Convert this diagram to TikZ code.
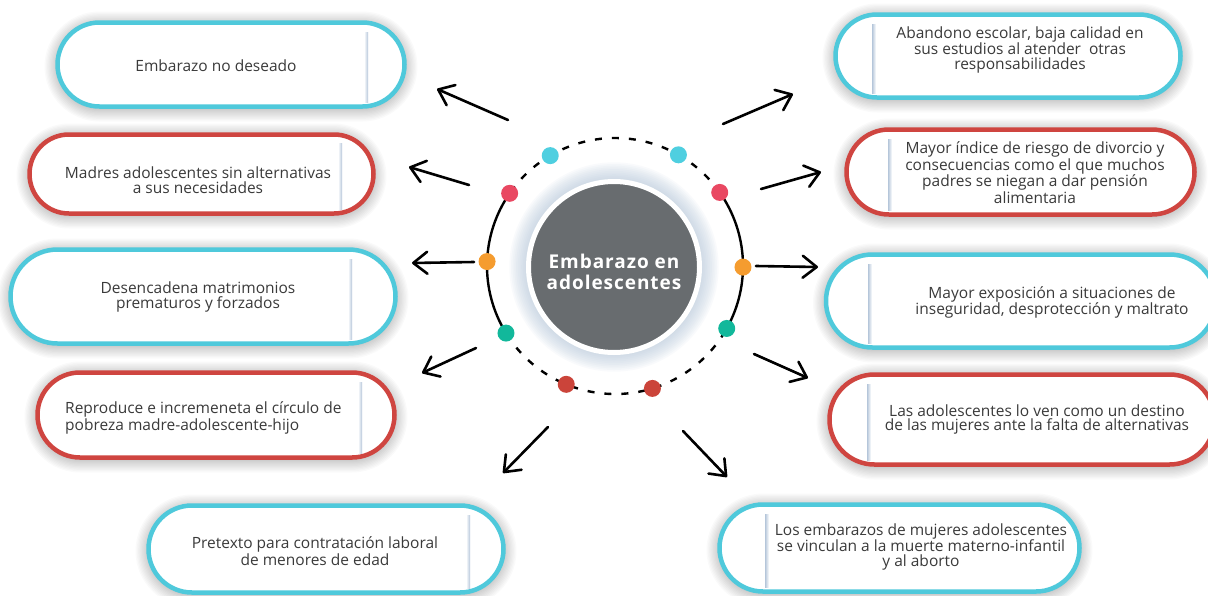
\documentclass[tikz,border=0pt]{standalone}
\usepackage{fontspec}
\setmainfont{Open Sans}
\usetikzlibrary{arrows.meta,calc}
\definecolor{cy}{HTML}{4FC9DB}
\definecolor{rd}{HTML}{CF4540}
\definecolor{txt}{HTML}{3A3A3A}
\definecolor{ctr}{HTML}{686C6F}
\definecolor{stripc}{HTML}{B5C6DA}
\definecolor{dcy}{HTML}{4FCFE0}
\definecolor{dpk}{HTML}{E94862}
\definecolor{drd}{HTML}{CB443A}
\definecolor{dor}{HTML}{F59C2F}
\definecolor{dgr}{HTML}{12B89B}
\definecolor{glow}{HTML}{AFC3D8}
\newcommand\mystripL[3]{\shade[left color=white,right color=stripc] (#1-4,#2) rectangle (#1,#3);}
\newcommand\mystripR[3]{\shade[left color=stripc,right color=white] (#1,#2) rectangle (#1+4,#3);}
% soft shadow + pill node: colour, name, cx, cy, w, h
\newcommand\mypill[6]{%
  \foreach \k in {1,...,10}
    \fill[black, opacity=0.02, rounded corners={(#6/2+\k*1.3)*1pt}]
      ({#3-#5/2-\k*1.3},{#4-#6/2-\k*1.3+2}) rectangle ({#3+#5/2+\k*1.3},{#4+#6/2+\k*1.3+2});
  \node[pill={#1}{#5}{#6}] (#2) at (#3,#4) {};}
\begin{document}
\begin{tikzpicture}[x=1pt,y=-1pt,
  pill/.style n args={3}{draw=#1, line width=4.5pt, fill=white, rectangle, inner sep=0pt,
    minimum width=#2pt, minimum height=#3pt, rounded corners=#3pt/2-0.05pt},
  lbl/.style={align=center, text=txt, font=\fontsize{15.5}{14.7}\selectfont, inner sep=0pt},
  arr/.style={line width=2.6pt, line cap=round, -{Straight Barb[length=14pt,width=22pt,line cap=round,line join=round]}},
  ringline/.style={line width=2.4pt, draw=black},
  ringdash/.style={ringline, dash pattern=on 7pt off 10pt},
  dot/.style={circle, fill=#1, minimum size=17pt, inner sep=0pt, draw=none},
]
\useasboundingbox (0,0) rectangle (1208,595);
\fill[white] (0,0) rectangle (1208,595);
\clip (0,0) rectangle (1208,595);

% ---- left boxes
\mypill{cy}{L1}{231}{64.5}{347}{84}
\mystripL{368}{32}{102}
\node[lbl] (t1) at (216,66) {Embarazo no deseado};

\mypill{rd}{L2}{201.5}{174}{344}{79}
\mystripL{342}{143}{209}
\node[lbl] (t2) at (198,180) {Madres adolescentes sin alternativas\\a sus necesidades};

\mypill{cy}{L3}{203}{296.5}{385}{94}
\mystripL{352}{259}{339}
\node[lbl] (t3) at (198,297) {Desencadena matrimonios\\prematuros y forzados};

\mypill{rd}{L4}{216}{415}{357}{85}
\mystripL{362}{382}{453}
\node[lbl, align=left, anchor=west] (t4) at (65,418) {Reproduce e incremeneta el círculo de\\pobreza madre-adolescente-hijo};

\mypill{cy}{L5}{326}{549}{355}{87}
\mystripL{470}{515}{588}
\node[lbl] (t5) at (315,551) {Pretexto para contratación laboral\\de menores de edad};

% ---- right boxes
\mypill{cy}{R1}{1008}{56}{345}{83}
\mystripR{872}{24}{93}
\node[lbl] (u1) at (1020,50) {Abandono escolar, baja calidad en\\sus estudios al atender\ \ otras\\responsabilidades};

\mypill{rd}{R2}{1020.5}{172}{348}{85}
\mystripR{888}{139}{210}
\node[lbl] (u2) at (1035,172.5) {Mayor índice de riesgo de divorcio y\\consecuencias como el que muchos\\padres se niegan a dar pensión\\alimentaria};

\mypill{cy}{R3}{1021}{301}{390}{93}
\mystripR{868}{264}{343}
\node[lbl] (u3) at (1052,302.5) {Mayor exposición a situaciones de\\inseguridad, desprotección y maltrato};

\mypill{rd}{R4}{1022}{419.5}{385}{90}
\mystripR{867}{384}{460}
\node[lbl] (u4) at (1037,419.5) {Las adolescentes lo ven como un destino\\de las mujeres ante la falta de alternativas};

\mypill{cy}{R5}{899.5}{548}{360}{87}
\mystripR{765}{514}{587}
\node[lbl] (u5) at (921,547) {Los embarazos de mujeres adolescentes\\se vinculan a la muerte materno-infantil\\y al aborto};

% ---- centre
\coordinate (C) at (615,266);
\foreach \r in {0,...,11}
  \fill[glow, opacity=0.07] (614,267) circle[radius=86pt+\r*1.7pt];
\node[circle, fill=ctr, draw=white, line width=5pt, minimum size=171pt, inner sep=0pt] (c) at (614,267) {};
\node[text=white, align=center, inner sep=0pt,
      font=\bfseries\fontsize{19}{21}\selectfont\addfontfeature{LetterSpace=5}] (ct) at (614,272) {Embarazo en\\adolescentes};

% ---- ring
\draw[ringline] ($(C)+(145:128pt)$) arc[start angle=145, end angle=212, radius=128pt];
\draw[ringline] ($(C)+(-29:128pt)$) arc[start angle=-29, end angle=35, radius=128pt];
\draw[ringdash] ($(C)+(35:128pt)$) arc[start angle=35, end angle=145, radius=128pt];
\draw[ringdash] ($(C)+(212:128pt)$) arc[start angle=212, end angle=331, radius=128pt];

\node[dot=dcy] (d1) at ($(C)+(120.4:128pt)$) {};
\node[dot=dcy] (d2) at ($(C)+(60.3:128pt)$) {};
\node[dot=dpk] (d3) at ($(C)+(145.4:128pt)$) {};
\node[dot=dpk] (d4) at ($(C)+(35.1:128pt)$) {};
\node[dot=dor] (d5) at ($(C)+(178:128pt)$) {};
\node[dot=dor] (d6) at ($(C)+(-0.5:128pt)$) {};
\node[dot=dgr] (d7) at ($(C)+(211.6:128pt)$) {};
\node[dot=dgr] (d8) at ($(C)+(-29.2:128pt)$) {};
\node[dot=drd] (d9) at ($(C)+(247.6:128pt)$) {};
\node[dot=drd] (d10) at ($(C)+(-73:128pt)$) {};

% ---- arrows
\coordinate (a1s) at (508,120); \coordinate (a1e) at (437,89);
\coordinate (a2s) at (469,185); \coordinate (a2e) at (409,167);
\coordinate (a3s) at (474,262); \coordinate (a3e) at (412,263);
\coordinate (a4s) at (476,348); \coordinate (a4e) at (422,373);
\coordinate (a5s) at (548,427); \coordinate (a5e) at (503,473);
\coordinate (b1s) at (723,124); \coordinate (b1e) at (793,94);
\coordinate (b2s) at (761,189); \coordinate (b2e) at (821,172);
\coordinate (b3s) at (756,266); \coordinate (b3e) at (818,267);
\coordinate (b4s) at (754,354); \coordinate (b4e) at (808,378);
\coordinate (b5s) at (683,431); \coordinate (b5e) at (727,477);
\foreach \p in {a1,a2,a3,a4,a5,b1,b2,b3,b4,b5}
  \draw[arr] (\p s) -- (\p e);
\end{tikzpicture}
\end{document}
